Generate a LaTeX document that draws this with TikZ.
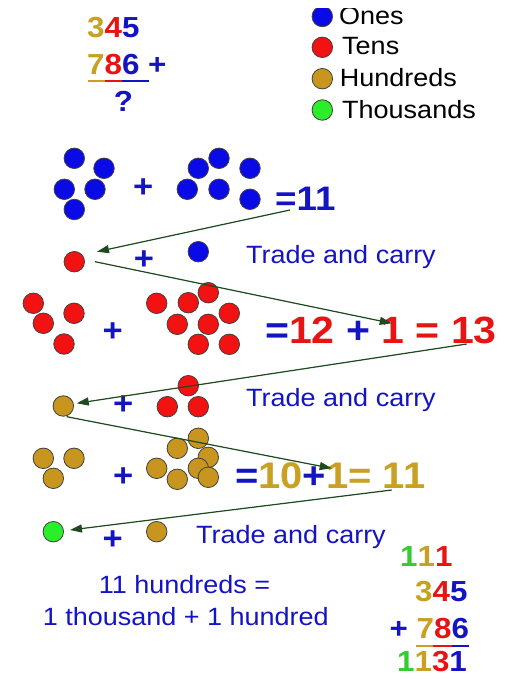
\documentclass[tikz,border=0pt]{standalone}
\usepackage{fontspec}
\setmainfont{Liberation Sans}[FakeStretch=1.08]
\usetikzlibrary{arrows.meta}
\definecolor{abBlue}{HTML}{0A0AE6}
\definecolor{abRed}{HTML}{F21212}
\definecolor{abGold}{HTML}{C8961E}
\definecolor{abGreen}{HTML}{2AEE2A}
\definecolor{abInk}{HTML}{1414C4}
\definecolor{abTxtRed}{HTML}{E81414}
\definecolor{abTxtGold}{HTML}{C9A022}
\definecolor{abTxtGreen}{HTML}{33CC33}
\definecolor{abArrow}{HTML}{1E4A1E}
\newcommand\colO[1]{\textcolor{abInk}{#1}}
\newcommand\colT[1]{\textcolor{abTxtRed}{#1}}
\newcommand\colH[1]{\textcolor{abTxtGold}{#1}}
\newcommand\colK[1]{\textcolor{abTxtGreen}{#1}}

\begin{document}
\begin{tikzpicture}[x=1pt,y=-1pt,
  >={Triangle[length=12pt,width=8pt]},
  dot/.style={circle,draw=black!75,line width=0.8pt,minimum size=20.5pt,inner sep=0pt},
  onedot/.style={dot,fill=abBlue},
  tendot/.style={dot,fill=abRed},
  hunddot/.style={dot,fill=abGold},
  thoudot/.style={dot,fill=abGreen},
  txt/.style={anchor=base west,inner sep=0pt,text=abInk,font=\fontsize{25}{30}\selectfont},
  legtxt/.style={txt,text=black},
  num/.style={anchor=base west,inner sep=0pt,text=abInk,font=\bfseries\fontsize{29}{34}\selectfont},
  big/.style={anchor=base west,inner sep=0pt,text=abInk,font=\bfseries\fontsize{37}{44}\selectfont},
  plus/.style={inner sep=0pt,text=abInk,font=\bfseries\fontsize{32}{36}\selectfont},
  carry/.style={->,draw=abArrow,fill=abArrow,line width=1.2pt},
  rule/.style={line width=2pt},
]
\useasboundingbox[fill=white] (0,0) rectangle (515,679);

% the sum
\node[num] (topA) at (87,38) {\colH{3}\colT{4}\colO{5}};
\node[num] (topB) at (87,75) {\colH{7}\colT{8}\colO{6} +};
\node[num,anchor=base] (topQ) at (123.5,112) {?};
\draw[rule,abTxtGold] (88.3,80.7) -- (105,80.7);
\draw[rule,abTxtRed] (105,80.7) -- (121.7,80.7);
\draw[rule,abInk] (121.7,80.7) -- (149.3,80.7);

% legend
\begin{scope}
\clip (280,8.5) rectangle (515,140);
\node[onedot]  (legO) at (322.3,16.5) {};
\node[tendot]  (legT) at (322.3,47.3) {};
\node[hunddot] (legH) at (322.3,78.7) {};
\node[thoudot] (legK) at (322.3,110) {};
\node[legtxt] (legOt) at (338.8,25) {Ones};
\node[legtxt] (legTt) at (342,55) {Tens};
\node[legtxt] (legHt) at (339.7,86.5) {Hundreds};
\node[legtxt] (legKt) at (342,118.3) {Thousands};
\end{scope}

% ones: 5 + 6
\foreach \x/\y [count=\i] in {74.3/158.3,104/168.3,64.3/189.3,95/189.3,74.3/209.5}
  \node[onedot] (oneA\i) at (\x,\y) {};
\foreach \x/\y [count=\i] in {219/158.3,198.3/168.3,250/168.3,187.3/189.3,219/189.3,250/199.3}
  \node[onedot] (oneB\i) at (\x,\y) {};
\node[plus] (plusA) at (143.3,188.3) {+};
\node[big,font=\bfseries\fontsize{34}{40}\selectfont] (sumOnes) at (275,210) {=11};

% carry into tens
\node[tendot] (tenCarry) at (74.3,261.7) {};
\node[plus] (plusB) at (144,260) {+};
\node[onedot] (oneLeft) at (198.3,251.7) {};
\node[txt] (tradeA) at (246,263) {Trade and carry};

% tens: 4 + 8
\foreach \x/\y [count=\i] in {33.3/303.3,43.3/323.3,74/313.3,64/344}
  \node[tendot] (tenA\i) at (\x,\y) {};
\foreach \x/\y [count=\i] in {156.7/303.3,188.3/302.7,208.3/292.7,229.3/313.3,177.3/324.3,208.3/324.3,198.3/344.3,229.3/344.3}
  \node[tendot] (tenB\i) at (\x,\y) {};
\node[plus] (plusC) at (112.7,331.7) {+};
\node[big,font=\bfseries\fontsize{38}{44}\selectfont] (sumTens) at (265,343.5) {=\colT{12} + \colT{1 = 13}};

% carry into hundreds
\node[hunddot] (hundCarry) at (63.3,406) {};
\node[plus] (plusD) at (123.3,405) {+};
\foreach \x/\y [count=\i] in {188.3/385.7,167.3/406.7,198.3/406.7}
  \node[tendot] (tenLeft\i) at (\x,\y) {};
\node[txt] (tradeB) at (246,406.7) {Trade and carry};

% hundreds: 3 + 7
\foreach \x/\y [count=\i] in {43.3/458.3,74/458.3,53.3/478.3}
  \node[hunddot] (hundA\i) at (\x,\y) {};
\foreach \x/\y [count=\i] in {198.3/438.3,177.3/448.3,208.3/457.3,156.7/468.3,198.3/468.3,177.3/479.3,208.3/477.3}
  \node[hunddot] (hundB\i) at (\x,\y) {};
\node[plus] (plusE) at (123.3,476.7) {+};
\node[big] (sumHund) at (235,488.3) {=\colH{10}+\colH{1= 11}};

% carry into thousands
\node[thoudot] (thouCarry) at (53.3,531.7) {};
\node[plus] (plusF) at (112.7,540) {+};
\node[hunddot] (hundLeft) at (156.7,531.7) {};
\node[txt] (tradeC) at (196,543) {Trade and carry};

\node[txt,anchor=base] (noteA) at (184.5,593) {11 hundreds =};
\node[txt,anchor=base] (noteB) at (185.8,625) {1 thousand + 1 hundred};

% the answer
\node[num] (ansC) at (400,566.7) {\colK{1}\colH{1}\colT{1}};
\node[num] (ansA) at (415,601.7) {\colH{3}\colT{4}\colO{5}};
\node[num] (ansB) at (389.5,638.3) {+ \colH{7}\colT{8}\colO{6}};
\node[num] (ansS) at (397,671.7) {\colK{1}\colH{1}\colT{3}\colO{1}};
\draw[rule,abTxtGold] (416,645.7) -- (433.3,645.7);
\draw[rule,abTxtRed] (433.3,645.7) -- (451.7,645.7);
\draw[rule,abInk] (451.7,645.7) -- (469.3,645.7);

% trade arrows
\coordinate (onesOut) at (290,210);
\coordinate (tensIn) at (97,251.7);
\coordinate (tensGo) at (95,261.7);
\coordinate (tensTo) at (391.7,323.3);
\coordinate (tensOut) at (466.7,344);
\coordinate (hundIn) at (76.7,403.3);
\coordinate (hundGo) at (66.7,416.7);
\coordinate (hundTo) at (331.7,468.3);
\coordinate (hundOut) at (391.7,490);
\coordinate (thouIn) at (70,530);
\draw[carry] (onesOut) -- (tensIn);
\draw[carry] (tensGo) -- (tensTo);
\draw[carry] (tensOut) -- (hundIn);
\draw[carry] (hundGo) -- (hundTo);
\draw[carry] (hundOut) -- (thouIn);
\end{tikzpicture}
\end{document}
